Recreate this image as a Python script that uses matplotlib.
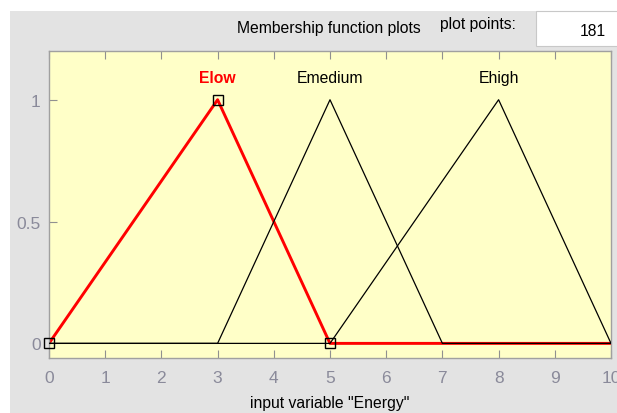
import matplotlib
matplotlib.use("Agg")
import matplotlib.pyplot as plt
import numpy as np
from matplotlib.patches import Rectangle

# membership functions of input "Energy" (triangular, params a b c)
mf_names = ["Elow", "Emedium", "Ehigh"]
mf_params = [[0, 3, 5], [3, 5, 7], [5, 8, 10]]
mf_colors = ["red", "black", "black"]
x_range = [0, 10]
n_points = 181
x_ticks = list(range(0, 11))
y_ticks = [0, 0.5, 1]
y_tick_labels = ["0", "0.5", "1"]

plt.rcParams["font.family"] = ["Liberation Sans", "DejaVu Sans"]

W, H = 617, 414
fig = plt.figure(figsize=(W / 100, H / 100), dpi=100)
fig.patch.set_facecolor("white")

# gray window panel
fig.patches.append(Rectangle((10 / W, 0), 1, (H - 12) / H, transform=fig.transFigure,
                             facecolor="#e3e3e3", edgecolor="none", zorder=-2))
# "plot points" edit box
fig.patches.append(Rectangle((536 / W, 1 - 47 / H), 90 / W, 35 / H, transform=fig.transFigure,
                             facecolor="white", edgecolor="#c8c8c8", lw=0.8, zorder=-1))
fig.text(329 / W, 1 - 29 / H, "Membership function plots", ha="center", va="center", fontsize=11.3)
fig.text(478 / W, 1 - 24 / H, "plot points:", ha="center", va="center", fontsize=11.3)
fig.text(606 / W, 1 - 31 / H, str(n_points), ha="right", va="center", fontsize=11.3)


def trimf(x, p):
    a, b, c = p
    return np.maximum(np.minimum((x - a) / (b - a), (c - x) / (c - b)), 0)


ax = fig.add_axes([49 / W, 55 / H, 562 / W, 307 / H])
ax.set_facecolor("#ffffc8")
x = np.linspace(x_range[0], x_range[1], n_points)

# selected function drawn first, thick red; the others thin black on top
for name, p, col in zip(mf_names, mf_params, mf_colors):
    lw = 2.1 if col == "red" else 0.9
    z = 2 if col == "red" else 3
    ax.plot(x, trimf(x, p), color=col, lw=lw, zorder=z)
    ax.text(p[1], 1.06, name, color=col, ha="center", va="bottom", fontsize=11.3,
            fontweight="bold" if col == "red" else "normal")

sel = mf_params[0]
ax.plot(sel, trimf(np.array(sel, float), sel), ls="none", marker="s", ms=7,
        mfc="none", mec="black", mew=1.0, zorder=4, clip_on=False)

ax.set_xlim(*x_range)
ax.set_ylim(-0.06, 1.2)
ax.set_xticks(x_ticks)
ax.set_yticks(y_ticks)
ax.set_yticklabels(y_tick_labels)
ax.tick_params(direction="in", length=6, width=0.8, color="#909090",
               labelcolor="#8a8a9a", labelsize=12.5, top=True)
ax.tick_params(axis="x", pad=9)
ax.tick_params(axis="y", pad=6)
for s in ax.spines.values():
    s.set_color("#a0a0a0")
    s.set_linewidth(1.0)
ax.set_xlabel('input variable "Energy"', fontsize=11.3, labelpad=7)

fig.savefig("out.png", dpi=100)
